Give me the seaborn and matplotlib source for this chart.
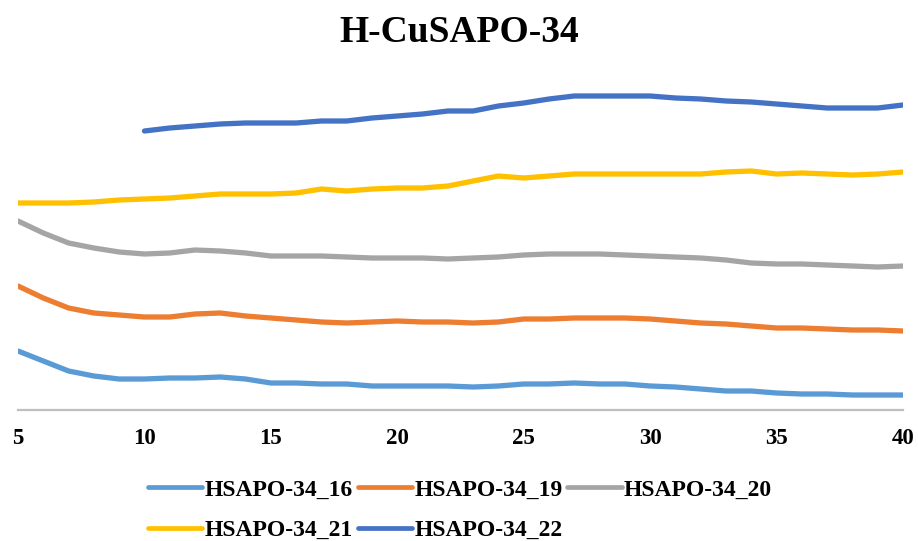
import numpy as np
import pandas as pd
import matplotlib
matplotlib.use("Agg")
import matplotlib.pyplot as plt
import seaborn as sns

# 2-theta positions (degrees) and intensities (arbitrary units)
two_theta = list(range(5, 41))
two_theta_22 = list(range(10, 41))

hsapo_16 = [59, 49, 39, 34, 31, 31, 32, 32, 33, 31, 27, 27, 26, 26, 24, 24, 24, 24,
            23, 24, 26, 26, 27, 26, 26, 24, 23, 21, 19, 19, 17, 16, 16, 15, 15, 15]
hsapo_19 = [124, 112, 102, 97, 95, 93, 93, 96, 97, 94, 92, 90, 88, 87, 88, 89, 88, 88,
            87, 88, 91, 91, 92, 92, 92, 91, 89, 87, 86, 84, 82, 82, 81, 80, 80, 79]
hsapo_20 = [189, 177, 167, 162, 158, 156, 157, 160, 159, 157, 154, 154, 154, 153, 152, 152, 152, 151,
            152, 153, 155, 156, 156, 156, 155, 154, 153, 152, 150, 147, 146, 146, 145, 144, 143, 144]
hsapo_21 = [207, 207, 207, 208, 210, 211, 212, 214, 216, 216, 216, 217, 221, 219, 221, 222, 222, 224,
            229, 234, 232, 234, 236, 236, 236, 236, 236, 236, 238, 239, 236, 237, 236, 235, 236, 238]
hsapo_22 = [279, 282, 284, 286, 287, 287, 287, 289, 289, 292, 294, 296, 299,
            299, 304, 307, 311, 314, 314, 314, 314, 312, 311, 309, 308, 306, 304, 302, 302, 302, 305]

labels = ["HSAPO-34_16", "HSAPO-34_19", "HSAPO-34_20", "HSAPO-34_21", "HSAPO-34_22"]
colors = ["#5B9BD5", "#ED7D31", "#A5A5A5", "#FFC000", "#4472C4"]
x_ticks = [5, 10, 15, 20, 25, 30, 35, 40]

frames = []
for lab, xs, ys in zip(labels,
                       [two_theta] * 4 + [two_theta_22],
                       [hsapo_16, hsapo_19, hsapo_20, hsapo_21, hsapo_22]):
    frames.append(pd.DataFrame({"2theta": xs, "intensity": ys, "sample": lab}))
df = pd.concat(frames, ignore_index=True)

sns.set_theme(style="white")
plt.rcParams["font.family"] = ["Liberation Serif", "DejaVu Serif"]
plt.rcParams["font.weight"] = "bold"
plt.rcParams["text.color"] = "black"
plt.rcParams["xtick.color"] = "black"

fig = plt.figure(figsize=(9.18, 5.41), dpi=100)
ax = fig.add_axes([18 / 918, 1 - 410 / 541, (903 - 18) / 918, (410 - 80) / 541])

sns.lineplot(data=df, x="2theta", y="intensity", hue="sample", hue_order=labels,
             palette=colors, linewidth=3.8, ax=ax, legend=False)

ax.set_xlim(5, 40)
ax.set_ylim(0, 330)
ax.set_xticks(x_ticks)
ax.set_xticklabels([str(t) for t in x_ticks], fontsize=16.5, fontweight="bold", color="black")
ax.set_yticks([])
ax.set_xlabel("")
ax.set_ylabel("")
ax.tick_params(axis="x", length=0, pad=13)

for side in ["top", "right", "left"]:
    ax.spines[side].set_visible(False)
ax.spines["bottom"].set_color("#BFBFBF")
ax.spines["bottom"].set_linewidth(1.6)

fig.suptitle("H-CuSAPO-34", fontsize=27, fontweight="bold", color="black",
             y=1 - 32 / 541, va="center")

# Legend filled column-wise, so reorder to read left-to-right in rows
handles = ax.get_lines()[:5]
order = [0, 3, 1, 4, 2]
leg = fig.legend([handles[i] for i in order], [labels[i] for i in order],
                 ncol=3, loc="upper left", bbox_to_anchor=(148 / 918, 1 - 479 / 541),
                 frameon=False, fontsize=17, handlelength=2.3, handletextpad=0.1,
                 columnspacing=0.2, labelspacing=0.8, borderaxespad=0, borderpad=0)
for t in leg.get_texts():
    t.set_fontweight("bold")
    t.set_color("black")
for h in leg.legend_handles:
    h.set_linewidth(3.4)

fig.savefig("out.png", dpi=100)
